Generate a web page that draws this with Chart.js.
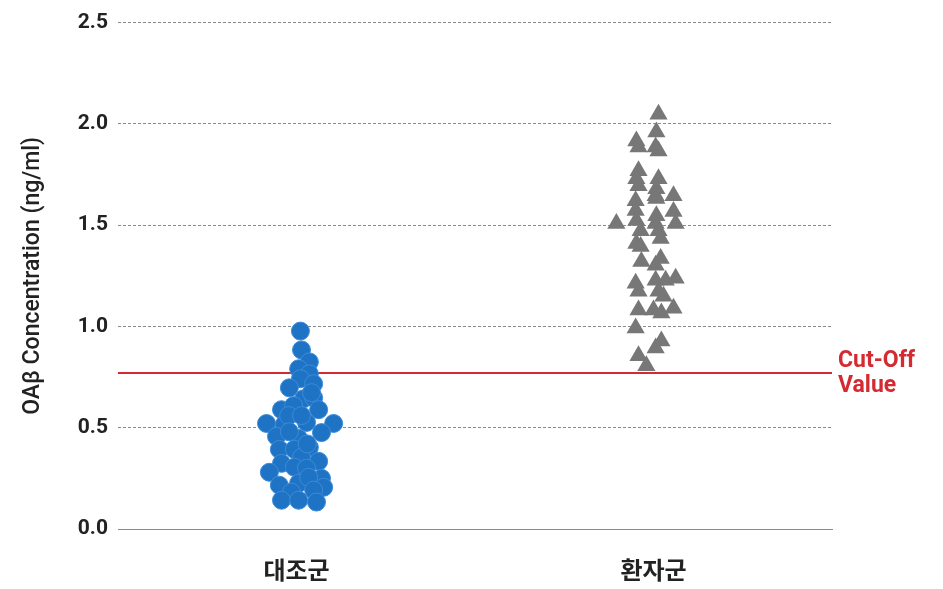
<!DOCTYPE html>
<html>
<head>
<meta charset="utf-8">
<script src="https://cdn.jsdelivr.net/npm/chart.js@4"></script>
<style>
  html, body { margin: 0; padding: 0; background: #fff; }
  #wrap { width: 943px; height: 589px; }
</style>
</head>
<body>
<div id="wrap"><canvas id="chart"></canvas></div>
<script>
// ===== DATA =====
const categories = ['대조군', '환자군'];
const categoryPos = [0.5, 1.5];
const yTicks = [0, 0.5, 1.0, 1.5, 2.0, 2.5];
const cutOff = 0.77;

// 대조군 (control) - horizontal jitter and concentration
const controlJitter = [0.011, 0.014, 0.036, 0.006, 0.036, 0.011, 0.048, -0.020, 0.020, 0.048,
  -0.042, -0.008, 0.062, -0.084, -0.034, 0.028, 0.104, 0.070, -0.056, 0.006,
  -0.048, -0.006, 0.036, 0.014, 0.062, -0.042, -0.006, -0.076, 0.028, 0.070,
  -0.048, 0.006, 0.034, 0.076, -0.014, 0.048, -0.042, 0.006, 0.056, 0.042,
  -0.022, 0.014, -0.020, 0.030];
const controlValues = [0.977, 0.884, 0.825, 0.791, 0.766, 0.742, 0.717, 0.697, 0.643, 0.648,
  0.589, 0.609, 0.589, 0.521, 0.516, 0.526, 0.521, 0.476, 0.457, 0.447,
  0.393, 0.393, 0.403, 0.354, 0.334, 0.324, 0.305, 0.280, 0.300, 0.250,
  0.216, 0.226, 0.255, 0.206, 0.182, 0.192, 0.142, 0.142, 0.133, 0.673,
  0.560, 0.560, 0.480, 0.420];

// 환자군 (patient)
const patientJitter = [0.014, 0.008, -0.048, -0.042, 0.006, 0.014, -0.042, 0.014, -0.048, -0.042,
  0.008, 0.056, -0.050, 0.006, 0.008, -0.104, -0.050, 0.008, 0.056, -0.048,
  0.006, 0.062, -0.036, 0.014, -0.048, 0.020, -0.036, -0.034, 0.020, 0.006,
  -0.050, 0.006, 0.034, 0.062, -0.042, 0.014, 0.028, -0.042, 0.000, 0.022,
  0.056, -0.050, 0.006, 0.022, -0.042, -0.020];
const patientValues = [2.048, 1.960, 1.916, 1.886, 1.886, 1.866, 1.768, 1.729, 1.729, 1.694,
  1.680, 1.645, 1.621, 1.645, 1.631, 1.508, 1.572, 1.547, 1.567, 1.523,
  1.508, 1.508, 1.473, 1.473, 1.410, 1.434, 1.395, 1.321, 1.336, 1.302,
  1.213, 1.228, 1.228, 1.238, 1.174, 1.174, 1.149, 1.081, 1.081, 1.066,
  1.090, 0.992, 0.894, 0.928, 0.855, 0.806];

const toPoints = (center, jitter, values) => values.map((v, i) => ({ x: center + jitter[i], y: v }));

// cut-off line + label
const cutOffPlugin = {
  id: 'cutOff',
  beforeDatasetsDraw(chart) {
    const { ctx, chartArea, scales } = chart;
    const y = scales.y.getPixelForValue(cutOff);
    ctx.save();
    ctx.strokeStyle = '#d42a32';
    ctx.lineWidth = 2;
    ctx.beginPath();
    ctx.moveTo(chartArea.left, y);
    ctx.lineTo(chartArea.right, y);
    ctx.stroke();
    ctx.fillStyle = '#d42a32';
    ctx.font = 'bold 23px Roboto';
    ctx.textBaseline = 'middle';
    ctx.fillText('Cut-Off', chartArea.right + 6, y - 12);
    ctx.fillText('Value', chartArea.right + 6, y + 13);
    ctx.restore();
  }
};

new Chart(document.getElementById('chart'), {
  type: 'scatter',
  data: {
    datasets: [
      { label: categories[0], data: toPoints(categoryPos[0], controlJitter, controlValues), pointStyle: 'circle', pointRadius: 9, pointHoverRadius: 9, backgroundColor: '#1f73c5', borderColor: '#3b8bd8', borderWidth: 1 },
      { label: categories[1], data: toPoints(categoryPos[1], patientJitter, patientValues), pointStyle: 'triangle', pointRadius: 10.5, pointHoverRadius: 10.5, backgroundColor: '#777777', borderColor: '#777777', borderWidth: 0 }
    ]
  },
  options: {
    responsive: true, maintainAspectRatio: false, animation: false,
    layout: { padding: { top: 20, right: 111, bottom: 0, left: 0 } },
    plugins: { legend: { display: false }, tooltip: { enabled: false } },
    scales: {
      x: {
        type: 'linear', min: 0, max: 2,
        afterBuildTicks: s => { s.ticks = categoryPos.map(v => ({ value: v })); },
        afterFit: s => { s.height = 60; },
        ticks: { callback: v => categories[categoryPos.indexOf(v)], color: '#222', font: { family: 'Noto Sans CJK KR', size: 24, weight: 'bold' }, padding: 18, maxRotation: 0 },
        grid: { display: false },
        border: { display: true, color: '#8a8a8a', width: 1 }
      },
      y: {
        min: 0, max: 2.5,
        afterBuildTicks: s => { s.ticks = yTicks.map(v => ({ value: v })); },
        afterFit: s => { s.width = 118; },
        ticks: { callback: v => v.toFixed(1), color: '#222', font: { family: 'Roboto', size: 21, weight: 'bold' }, padding: 10 },
        grid: { color: '#8a8a8a', lineWidth: 1, drawTicks: false },
        border: { display: false, dash: [3, 2] },
        title: { display: true, text: 'OAβ Concentration (ng/ml)', color: '#222', font: { family: 'Roboto', size: 23, weight: '500' }, padding: { top: 19, bottom: 0 } }
      }
    }
  },
  plugins: [cutOffPlugin]
});
</script>
</body>
</html>
